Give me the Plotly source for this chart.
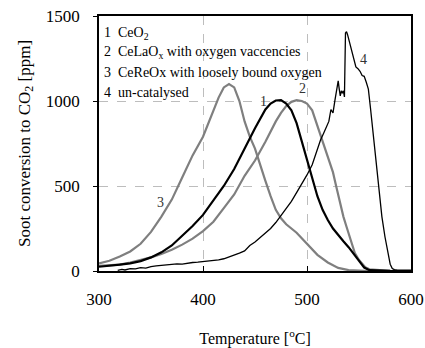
import plotly.graph_objects as go

# Curve 1: CeO2
t1 = [300,310,320,330,340,350,360,370,380,390,400,410,420,430,440,450,460,465,470,475,480,485,490,495,500,505,510,515,520,525,530,535,540,545,550,555,560,570,580,600]
v1 = [25,30,38,45,58,80,110,150,205,265,330,415,500,600,720,840,950,985,1003,1005,985,945,870,760,650,540,440,360,300,250,210,175,140,100,60,20,5,2,1,0]

# Curve 2: CeLaOx
t2 = [300,310,320,330,340,350,360,370,380,390,400,410,420,430,440,450,460,470,475,480,485,490,495,500,505,512,518,522,525,528,531,535,538,542,546,550,556,560,570,580,600]
v2 = [30,33,38,50,65,80,100,125,155,190,235,290,370,450,560,650,760,880,930,970,995,1005,1000,985,945,816,700,640,580,500,420,320,260,180,105,65,22,10,4,1,0]

# Curve 3: CeReOx
t3 = [300,310,320,330,340,350,360,370,380,390,400,410,415,420,425,430,435,440,445,450,455,460,465,470,475,480,490,500,510,520,530,540,550,560,600]
v3 = [45,60,85,115,160,230,320,420,550,680,790,950,1020,1080,1100,1080,1000,880,790,720,620,530,440,360,310,275,225,160,95,50,18,5,2,0,0]

# Curve 4: un-catalysed
t4 = [318,322,325,330,335,340,345,350,355,360,365,370,375,380,385,390,395,400,405,410,415,420,425,430,435,440,445,450,455,460,465,470,475,480,485,490,495,500,505,510,513,516,519,521,523,525,527,529,530,531,532,533,534,535,536,537,538,539,541,543,545,547,549,551,553,555,557,559,561,563,566,569,572,575,578,580,582,584,587,590,595,600]
v4 = [4,10,6,14,12,20,17,26,30,33,36,38,42,40,46,50,52,55,58,62,66,72,82,92,105,118,150,170,195,220,250,285,325,365,410,461,510,565,625,720,770,810,850,880,950,930,1010,1080,1118,1070,1030,1060,1045,1060,1024,1400,1408,1390,1340,1300,1250,1200,1190,1175,1150,1145,1110,1070,960,840,650,480,320,200,100,40,15,8,5,6,5,5]

labels = ["1  CeO<sub>2</sub>",
          "2  CeLaO<sub>x</sub> with oxygen vaccencies",
          "3  CeReOx with loosely bound oxygen",
          "4  un-catalysed"]

curve_labels = ["1", "2", "3", "4"]
label_x = [458, 496, 359, 554]
label_y = [1000, 1071, 402, 1243]

GRAY = "#7f7f7f"
FONT = "Liberation Serif, Times New Roman, serif"

fig = go.Figure()
fig.add_trace(go.Scatter(x=t3, y=v3, mode="lines", line=dict(color=GRAY, width=2.2)))
fig.add_trace(go.Scatter(x=t2, y=v2, mode="lines", line=dict(color=GRAY, width=2.2)))
fig.add_trace(go.Scatter(x=t1, y=v1, mode="lines", line=dict(color="black", width=2.2)))
fig.add_trace(go.Scatter(x=t4, y=v4, mode="lines", line=dict(color="black", width=1.3)))

for i, lab in enumerate(curve_labels):
    fig.add_annotation(x=label_x[i], y=label_y[i], text=lab, showarrow=False,
                       font=dict(family=FONT, size=14, color="#333333"))

for i, lab in enumerate(labels):
    fig.add_annotation(xref="paper", yref="paper", x=0.01, y=1 - (0.067 + i * 0.078),
                       text=lab, showarrow=False, xanchor="left", yanchor="middle",
                       font=dict(family=FONT, size=14, color="black"))

fig.update_layout(
    width=425, height=348, autosize=False,
    margin=dict(l=99, r=14, t=16, b=77),
    paper_bgcolor="white", plot_bgcolor="white",
    showlegend=False,
    font=dict(family=FONT, size=17, color="black"),
    xaxis=dict(range=[300, 600], tickvals=[300, 400, 500, 600], showgrid=True,
               gridcolor="#bdbdbd", griddash="dash", gridwidth=1, automargin=False,
               showline=True, linecolor="black", linewidth=1.5, mirror=True,
               ticks="inside", ticklen=5, tickcolor="black", zeroline=False,
               ticklabelstandoff=12, tickfont=dict(family=FONT, size=17),
               title=dict(text="Temperature [<sup>o</sup>C]", font=dict(family=FONT, size=16), standoff=27)),
    yaxis=dict(range=[0, 1500], tickvals=[0, 500, 1000, 1500], showgrid=True,
               gridcolor="#bdbdbd", griddash="dash", gridwidth=1, automargin=False,
               showline=True, linecolor="black", linewidth=1.5, mirror=True,
               ticks="outside", ticklen=4, tickcolor="black", zeroline=False,
               ticklabelstandoff=10, tickfont=dict(family=FONT, size=17),
               title=dict(text="Soot conversion to CO<sub>2</sub> [ppm]", font=dict(family=FONT, size=17), standoff=11)),
)

fig.write_html("out.html",
               config={"responsive": False, "displayModeBar": False},
               post_script="document.body.style.margin='0';document.documentElement.style.overflow='hidden';document.body.style.overflow='hidden';")
